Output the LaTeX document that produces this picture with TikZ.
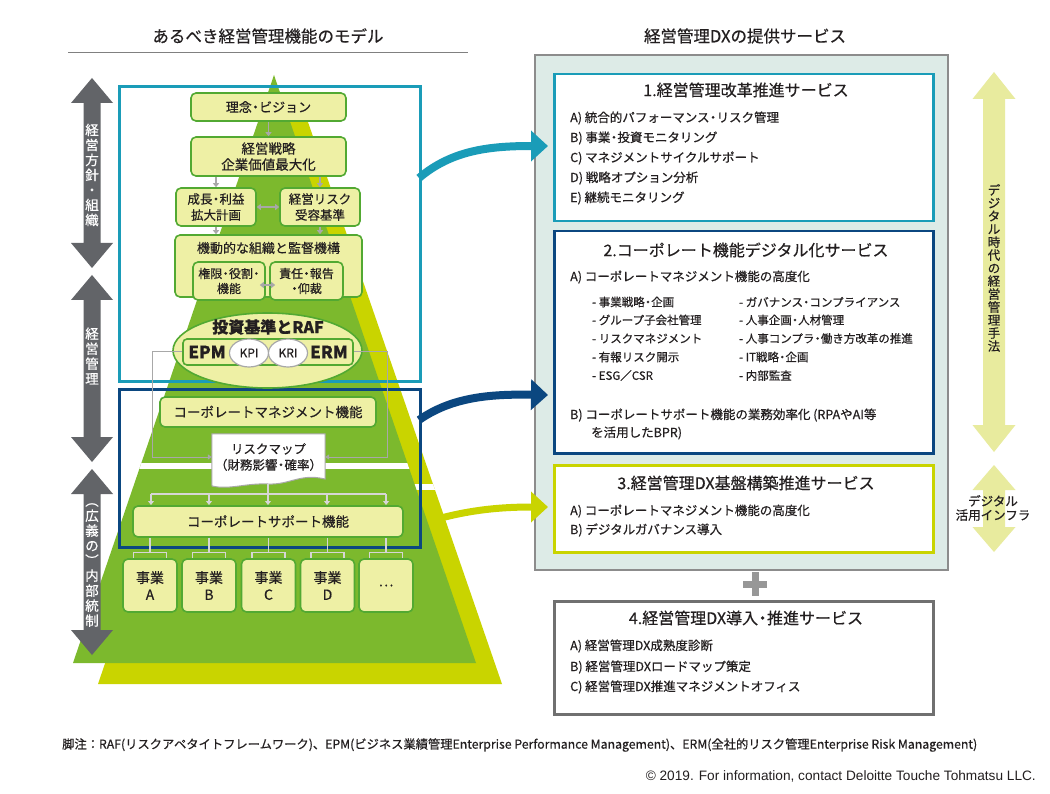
\documentclass[tikz,border=0pt]{standalone}
\usepackage{fontspec}
\usepackage{graphicx}
\setmainfont{Noto Sans CJK JP}[RawFeature={embolden=0.5}]
\newfontfamily\arialf{Liberation Sans}
\usetikzlibrary{arrows.meta,shapes.geometric}
\definecolor{pgreen}{HTML}{7CB92D}
\definecolor{pyellow}{HTML}{C9D400}
\definecolor{bfill}{HTML}{EEF0A5}
\definecolor{bgreen}{HTML}{52A932}
\definecolor{teal1}{HTML}{1A9CB8}
\definecolor{navy1}{HTML}{0B4780}
\definecolor{agray}{HTML}{626468}
\definecolor{ayel}{HTML}{E8EB9E}
\definecolor{panel}{HTML}{DDEBE7}
\definecolor{pborder}{HTML}{8C8C8C}
\definecolor{lgray}{HTML}{A8A8A8}
\definecolor{wgray}{HTML}{D6D6D6}
\definecolor{txt}{HTML}{231F20}
\definecolor{b4gray}{HTML}{707070}
\newcommand\ndot{\kern-0.22em・\kern-0.22em}
\newcommand\dblArrow[7]{%
  \fill[#7] (#1,#2) -- (#1+#5,#2+#6) -- (#1+#4,#2+#6) -- (#1+#4,#3-#6) -- (#1+#5,#3-#6) -- (#1,#3)
    -- (#1-#5,#3-#6) -- (#1-#4,#3-#6) -- (#1-#4,#2+#6) -- (#1-#5,#2+#6) -- cycle;}
\tikzset{
  ybox/.style={draw=bgreen, fill=bfill, line width=1.6pt, rounded corners=5pt, align=center,
    inner sep=0pt, text=txt, font=\fontsize{13}{16}\selectfont},
  vtxt/.style={align=center, inner sep=0pt, font=\fontsize{13.5}{15}\selectfont},
  svitem/.style={anchor=west, inner sep=0pt, text=txt, font=\fontsize{12.5}{15}\selectfont},
  svsub/.style={anchor=west, inner sep=0pt, text=txt, font=\fontsize{11.5}{14}\selectfont},
  svtitle/.style={inner sep=0pt, text=txt, font=\fontsize{16}{18}\selectfont},
  svbox/.style={fill=white, line width=2.5pt, anchor=north west, inner sep=0pt},
  sarr/.style={draw=lgray, line width=1.2pt, -{Triangle[length=4pt,width=6pt]}},
  darr/.style={draw=lgray, line width=1.2pt, {Triangle[length=4pt,width=6pt]}-{Triangle[length=4pt,width=6pt]}},
  gline/.style={draw=lgray, line width=1pt},
  wline/.style={draw=wgray, line width=1.2pt},
  warr/.style={draw=wgray, line width=1.2pt, -{Triangle[length=4pt,width=6pt]}},
  bigarr/.style={line width=8pt, -{Triangle[length=17pt,width=30pt]}},
  bizbox/.style={ybox, minimum width=54, minimum height=53, font=\fontsize{14}{17}\selectfont},
}
\begin{document}
\begin{tikzpicture}[x=1pt,y=-1pt]
\useasboundingbox (0,0) rectangle (1050,794);
\fill[white] (0,0) rectangle (1050,794);
% titles
\node[svtitle, font=\fontsize{16.5}{18}\selectfont] (ltitle) at (268,36) {あるべき経営管理機能のモデル};
\draw[gray, line width=1pt] (68,53) -- (468,53);
\node[svtitle, font=\fontsize{16.5}{18}\selectfont] (rtitle) at (745,36) {経営管理DXの提供サービス};
% pyramids
\fill[pyellow] (299,96) -- (98,684) -- (502,684) -- cycle;
\begin{scope}
  \clip (299,96) -- (98,684) -- (502,684) -- cycle;
  \fill[white] (0,484) rectangle (600,490);
\end{scope}
\fill[pgreen] (274,75) -- (73,663) -- (476,663) -- cycle;
\begin{scope}
  \clip (274,75) -- (73,663) -- (476,663) -- cycle;
  \fill[white] (0,463) rectangle (600,469);
\end{scope}
% left gray arrows
\dblArrow{92}{78}{268}{8.5}{21}{25}{agray}
\dblArrow{92}{275}{462}{8.5}{21}{25}{agray}
\dblArrow{92}{469}{655}{8.5}{21}{25}{agray}
\node[vtxt, text=white] (lv1) at (92,175) {経\\営\\方\\針\\・\\組\\織};
\node[vtxt, text=white] (lv2) at (92,356) {経\\営\\管\\理};
\node[vtxt, text=white] (lv3) at (92,565) {︵\\広\\義\\の\\︶\\内\\部\\統\\制};
% frames
\node[draw=teal1, line width=3pt, minimum width=301, minimum height=295, anchor=north west, inner sep=0pt] (tealbox) at (118,85) {};
\node[draw=navy1, line width=3pt, minimum width=301, minimum height=158, anchor=north west, inner sep=0pt] (navybox) at (118,388) {};
% upper boxes
\node[ybox, minimum width=155, minimum height=28] (vision) at (268.5,107) {理念\ndot ビジョン};
\node[ybox, minimum width=155, minimum height=39, font=\fontsize{13.5}{16}\selectfont] (strat) at (268.5,156.5) {経営戦略\\企業価値最大化};
\node[ybox, minimum width=80, minimum height=38, font=\fontsize{12.5}{16}\selectfont] (growth) at (216,207) {成長\ndot 利益\\拡大計画};
\node[ybox, minimum width=80, minimum height=38, font=\fontsize{12.5}{16}\selectfont] (riskacc) at (320,207) {経営リスク\\受容基準};
\node[ybox, minimum width=187, minimum height=62] (org) at (268.5,266) {};
\node[inner sep=0pt, text=txt, font=\fontsize{13}{16}\selectfont] (orgt) at (268.5,248) {機動的な組織と監督機構};
\node[ybox, minimum width=72, minimum height=38, font=\fontsize{12}{15}\selectfont] (auth) at (229,281) {権限\ndot 役割\ndot\\機能};
\node[ybox, minimum width=73, minimum height=38, font=\fontsize{12}{15}\selectfont] (resp) at (306.5,281) {責任\ndot 報告\\\ndot 仰裁};
\draw[sarr] (vision.south) -- (strat.north);
\draw[sarr] (strat.south -| growth) -- (growth.north);
\draw[sarr] (strat.south -| riskacc) -- (riskacc.north);
\draw[darr] (growth.east) -- (riskacc.west);
\draw[sarr] (growth.south) -- (growth.south |- org.north);
\draw[sarr] (riskacc.south) -- (riskacc.south |- org.north);
\draw[darr] ([xshift=-6pt,yshift=-4pt]auth.east) -- ([xshift=6pt,yshift=-4pt]resp.west);
% RAF ellipse
\node[ellipse, draw=bgreen, fill=bfill, line width=1.6pt, minimum width=189, minimum height=75] (raf) at (267.5,350.5) {};
\node[inner sep=0pt, text=txt, font=\bfseries\fontsize{16}{18}\selectfont] (raft) at (268,327) {投資基準とRAF};
\node[ybox, minimum width=170, minimum height=26, rounded corners=4pt] (epmbox) at (268,352) {};
\node[inner sep=0pt, text=txt, font=\bfseries\fontsize{17}{19}\selectfont] (epm) at (207,352) {EPM};
\node[inner sep=0pt, text=txt, font=\bfseries\fontsize{17}{19}\selectfont] (erm) at (329,352) {ERM};
\node[ellipse, draw=lgray, fill=white, line width=1.2pt, minimum width=39, minimum height=28, inner sep=0pt, text=txt, font=\fontsize{12}{14}\selectfont] (kpi) at (249,353) {KPI};
\node[ellipse, draw=lgray, fill=white, line width=1.2pt, minimum width=39, minimum height=28, inner sep=0pt, text=txt, font=\fontsize{12}{14}\selectfont] (kri) at (288,353) {KRI};
% corporate management
\node[ybox, minimum width=216, minimum height=30, font=\fontsize{13.5}{16}\selectfont] (cm) at (268,412) {コーポレートマネジメント機能};
% risk map
\node[minimum width=113, minimum height=53, inner sep=0pt] (rm) at (268.5,460.5) {};
\draw[lgray, fill=white, line width=1pt] (rm.north west) -- (rm.north east) -- (325,479)
  .. controls (300,473) and (290,485) .. (268,484) .. controls (245,483) and (230,490) .. (212,486) -- cycle;
\node[align=center, inner sep=0pt, text=txt, font=\fontsize{12.5}{16}\selectfont] (rmt) at (268.5,457) {リスクマップ\\（財務影響\ndot 確率）};
\draw[gline, -{Triangle[length=4pt,width=5pt]}] (epmbox.west) -- (152,352) |- ([yshift=3.5pt]rm.west);
\draw[gline, -{Triangle[length=4pt,width=5pt]}] (epmbox.east) -- (387,352) |- ([yshift=3.5pt]rm.east);
% corporate support
\node[ybox, minimum width=270, minimum height=31, font=\fontsize{13.5}{16}\selectfont] (cs) at (268,521.5) {コーポレートサポート機能};
\coordinate (rmb) at (268,484);
\draw[wline] (rmb) -- (268,494);
\draw[wline] (151,494) -- (386,494);
\foreach \xx in {151,209,268,327,386} {\draw[warr] (\xx,494) -- (\xx,505);}
% business units
\node[bizbox] (bA) at (150,585.5) {事業\\A};
\node[bizbox] (bB) at (209,585.5) {事業\\B};
\node[bizbox] (bC) at (268.5,585.5) {事業\\C};
\node[bizbox] (bD) at (327.5,585.5) {事業\\D};
\node[bizbox] (bE) at (386,585.5) {…};
\foreach \b in {bA,bB,bC,bD,bE} {
  \draw[wline] (\b.north |- cs.south) -- ([yshift=6pt]\b.north);
  \draw[wline] ([xshift=-16.5pt]\b.north) -- ++(0,-6) -- ++(33,0) -- ++(0,6);
}
% right panel
\draw[pborder, fill=panel, line width=2.5pt] (535,55) rectangle (948,570);
\node[svbox, draw=teal1, minimum width=379, minimum height=147] (s1) at (553,73) {};
\node[svtitle] (s1t) at (746,90) {1.経営管理改革推進サービス};
\node[svitem] (s1a) at (570,118) {A)\ 統合的パフォーマンス\ndot リスク管理};
\node[svitem] (s1b) at (570,138) {B)\ 事業\ndot 投資モニタリング};
\node[svitem] (s1c) at (570,158) {C)\ マネジメントサイクルサポート};
\node[svitem] (s1d) at (570,178) {D)\ 戦略オプション分析};
\node[svitem] (s1e) at (570,198) {E)\ 継続モニタリング};
\node[svbox, draw=navy1, minimum width=379, minimum height=222] (s2) at (553,230) {};
\node[svtitle] (s2t) at (746,250) {2.コーポレート機能デジタル化サービス};
\node[svitem] (s2a) at (570,277) {A)\ コーポレートマネジメント機能の高度化};
\node[svsub] (l1) at (592,302) {-\ 事業戦略\ndot 企画};
\node[svsub] (l2) at (592,320) {-\ グループ子会社管理};
\node[svsub] (l3) at (592,338.5) {-\ リスクマネジメント};
\node[svsub] (l4) at (592,357) {-\ 有報リスク開示};
\node[svsub] (l5) at (592,375.5) {-\ ESG／CSR};
\node[svsub] (r1) at (739,302) {-\ ガバナンス\ndot コンプライアンス};
\node[svsub] (r2) at (739,320) {-\ 人事企画\ndot 人材管理};
\node[svsub] (r3) at (739,338.5) {-\ 人事コンプラ\ndot 働き方改革の推進};
\node[svsub] (r4) at (739,357) {-\ IT戦略\ndot 企画};
\node[svsub] (r5) at (739,375.5) {-\ 内部監査};
\node[svitem] (s2b) at (570,415) {B)\ コーポレートサポート機能の業務効率化\ (RPAやAI等};
\node[svitem] (s2c) at (591,433) {を活用したBPR)};
\node[svbox, draw=pyellow, minimum width=379, minimum height=87] (s3) at (553,464) {};
\node[svtitle] (s3t) at (746,483) {3.経営管理DX基盤構築推進サービス};
\node[svitem] (s3a) at (570,511) {A)\ コーポレートマネジメント機能の高度化};
\node[svitem] (s3b) at (570,530) {B)\ デジタルガバナンス導入};
\draw[lgray!90!black, line width=7pt] (743,584) -- (767,584) (755,572) -- (755,596);
\node[svbox, draw=b4gray, minimum width=379, minimum height=113] (s4) at (553,600) {};
\node[svtitle] (s4t) at (746,618) {4.経営管理DX導入\ndot 推進サービス};
\node[svitem] (s4a) at (570,646) {A)\ 経営管理DX成熟度診断};
\node[svitem] (s4b) at (570,667) {B)\ 経営管理DXロードマップ策定};
\node[svitem] (s4c) at (570,687) {C)\ 経営管理DX推進マネジメントオフィス};
% right yellow arrows
\dblArrow{994}{72}{452}{11}{21.5}{27}{ayel}
\dblArrow{994}{465}{552}{11}{21.5}{25}{ayel}
\node[vtxt, text=txt, font=\fontsize{12.5}{13}\selectfont] (rv1) at (994,268) {デ\\ジ\\タ\\ル\\時\\代\\の\\経\\営\\管\\理\\手\\法};
\node[align=center, inner sep=0pt, text=txt, font=\fontsize{12.5}{14}\selectfont] (rv2) at (993,508) {デジタル\\活用インフラ};
% curved arrows
\coordinate (ta) at (419,178);
\coordinate (tb) at (548,146);
\coordinate (na) at (419,420);
\coordinate (nb) at (548,395);
\coordinate (ya) at (441,518);
\coordinate (yb) at (548,507);
\draw[bigarr, teal1] (ta) .. controls (452,150) and (490,146) .. (tb);
\draw[bigarr, navy1] (na) .. controls (452,397) and (490,394) .. (nb);
\draw[bigarr, pyellow, line width=7pt] (ya) .. controls (472,510) and (500,507) .. (yb);
% footnote and copyright
\node[anchor=west, inner sep=0pt, text=txt, font=\fontsize{12.5}{14}\selectfont] (fn) at (62,745)
  {\resizebox{915pt}{!}{脚注：RAF(リスクアペタイトフレームワーク)、EPM(ビジネス業績管理Enterprise Performance Management)、ERM(全社的リスク管理Enterprise Risk Management)}};
\node[anchor=east, inner sep=0pt, text=txt, font=\arialf\fontsize{12}{14}\selectfont] (cr) at (1036,776)
  {\resizebox{390pt}{!}{© 2019. For information, contact Deloitte Touche Tohmatsu LLC.}};
\end{tikzpicture}
\end{document}
